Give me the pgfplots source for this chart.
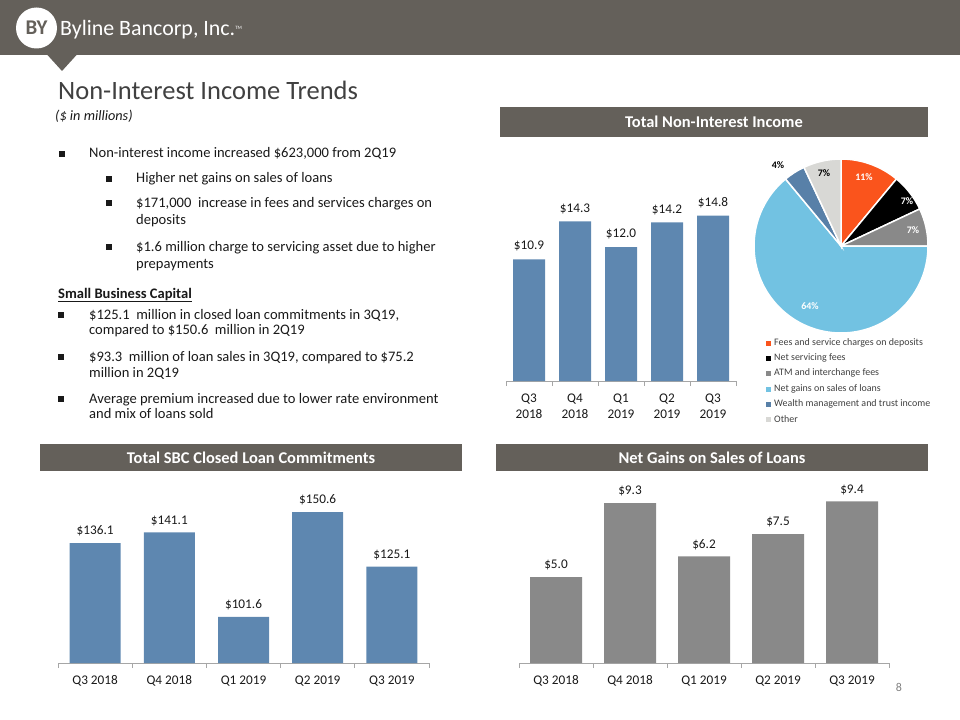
\documentclass[border=0pt]{standalone}
\usepackage{fontspec}
\setmainfont{Carlito}
\usepackage{pgfplots}
\pgfplotsset{compat=1.18}
\definecolor{hdr}{RGB}{100,96,90}
\definecolor{barblue}{RGB}{94,135,176}
\definecolor{bargray}{RGB}{137,137,137}
\definecolor{pieorange}{RGB}{250,84,28}
\definecolor{piegray}{RGB}{137,137,137}
\definecolor{pielight}{RGB}{114,194,226}
\definecolor{piewealth}{RGB}{88,128,168}
\definecolor{pieother}{RGB}{216,216,213}
\definecolor{axc}{RGB}{166,166,166}
\definecolor{txt}{RGB}{25,25,25}
\definecolor{titlec}{RGB}{64,64,64}
\definecolor{legc}{RGB}{64,64,64}
\pgfplotsset{
  barchart/.style={
    scale only axis, ybar,
    axis x line*=bottom, axis y line=none, ytick=\empty,
    xmin=-0.5, xmax=4.5, xtick={0,1,2,3,4},
    major tick length=0pt,
    minor xtick={-0.5,0.5,1.5,2.5,3.5,4.5},
    minor tick length=5bp, tick align=outside,
    x axis line style={draw=axc, line width=0.75bp},
    every minor tick/.append style={draw=axc, line width=0.75bp},
    xticklabel style={font=\fontsize{13.3}{16}\selectfont, text=txt, align=center, yshift=-9bp},
    nodes near coords={\$\pgfmathprintnumber[fixed,fixed zerofill,precision=1]{\pgfplotspointmeta}},
    point meta=y,
    /pgf/number format/assume math mode=true,
  }
}
\newcommand{\sq}[2]{\fill[txt] ({#1-2.6},{-#2+2.8}) rectangle ({#1+2.6},{-#2-2.8});}
\newcommand{\tl}[3]{\node[anchor=base west, inner sep=0, text=txt, font=\fontsize{14.6}{14.6}\selectfont] at (#1,-#2) {#3};}
\begin{document}
\begin{tikzpicture}[x=1bp,y=1bp]
\path[use as bounding box] (0,0) rectangle (960,-720);
% header
\fill[hdr] (0,0) rectangle (960,-55);
\fill[hdr] (47,-54.5) -- (77,-54.5) -- (62,-71) -- cycle;
\fill[white] (36.5,-28) circle[radius=20.5];
\node[text=hdr, font=\fontsize{21}{21}\selectfont\bfseries] at (36.5,-28) {BY};
\node[anchor=base west, inner sep=0, text=white, font=\fontsize{22}{22}\selectfont] at (60,-36) {Byline Bancorp, Inc.\raisebox{6bp}{\fontsize{5}{5}\selectfont TM}};
% title
\node[anchor=base west, inner sep=0, text=titlec, font=\fontsize{26.6}{26.6}\selectfont] at (58,-100) {Non-Interest Income Trends};
\node[anchor=base west, inner sep=0, text=txt, font=\fontsize{14.3}{14.3}\selectfont\itshape] at (55,-121) {(\$ in millions)};
% bullets
\sq{62}{154}
\tl{89}{158}{Non-interest income increased \$623,000 from 2Q19}
\sq{109}{179}
\tl{136}{183}{Higher net gains on sales of loans}
\sq{109}{203}
\tl{136}{207}{\$171,000\ \ increase in fees and services charges on}
\tl{136}{224}{deposits}
\sq{109}{247}
\tl{136}{251}{\$1.6 million charge to servicing asset due to higher}
\tl{136}{268}{prepayments}
\node[anchor=base west, inner sep=0, text=txt, font=\fontsize{14.6}{14.6}\selectfont\bfseries] at (58,-298) {\underline{Small Business Capital}};
\sq{61}{315}
\tl{89}{319}{\$125.1\ \ million in closed loan commitments in 3Q19,}
\tl{89}{334}{compared to \$150.6\ \ million in 2Q19}
\sq{61}{357}
\tl{89}{361}{\$93.3\ \ million of loan sales in 3Q19, compared to \$75.2}
\tl{89}{377}{million in 2Q19}
\sq{61}{399}
\tl{89}{403}{Average premium increased due to lower rate environment}
\tl{89}{418}{and mix of loans sold}
% section boxes
\fill[hdr] (500,-107) rectangle (928,-137);
\node[text=white, font=\fontsize{16.5}{16.5}\selectfont\bfseries] at (714,-122) {Total Non-Interest Income};
\fill[hdr] (40,-444) rectangle (462,-471);
\node[text=white, font=\fontsize{16.5}{16.5}\selectfont\bfseries] at (251,-457.5) {Total SBC Closed Loan Commitments};
\fill[hdr] (496,-444) rectangle (928,-471);
\node[text=white, font=\fontsize{16.5}{16.5}\selectfont\bfseries] at (712,-457.5) {Net Gains on Sales of Loans};
% top bar chart
\begin{axis}[barchart, at={(506bp,-381bp)}, anchor=south west,
  width=230bp, height=201bp, ymin=0, ymax=18, bar width=32bp,
  xticklabels={{Q3\\2018},{Q4\\2018},{Q1\\2019},{Q2\\2019},{Q3\\2019}},
  nodes near coords style={font=\fontsize{13.3}{13.3}\selectfont, text=txt, yshift=4.3bp}]
\addplot[fill=barblue, draw=none] coordinates {(0,10.9) (1,14.3) (2,12.0) (3,14.2) (4,14.8)};
\end{axis}
% pie
\begin{axis}[at={(841bp,-246bp)}, anchor=center, scale only axis, width=174bp, height=174bp,
  xmin=-1, xmax=1, ymin=-1, ymax=1, hide axis, clip=false]
\filldraw[fill=pieorange, draw=white, line width=1.5bp] (axis cs:0,0) -- ++(90:87bp) arc[start angle=90, delta angle={-11*3.6}, radius=87bp] -- cycle;
\filldraw[fill=black, draw=white, line width=1.5bp] (axis cs:0,0) -- ++(50.4:87bp) arc[start angle=50.4, delta angle={-7*3.6}, radius=87bp] -- cycle;
\filldraw[fill=piegray, draw=white, line width=1.5bp] (axis cs:0,0) -- ++(25.2:87bp) arc[start angle=25.2, delta angle={-7*3.6}, radius=87bp] -- cycle;
\filldraw[fill=pielight, draw=white, line width=1.5bp] (axis cs:0,0) -- ++(0:87bp) arc[start angle=0, delta angle={-64*3.6}, radius=87bp] -- cycle;
\filldraw[fill=piewealth, draw=white, line width=1.5bp] (axis cs:0,0) -- ++(129.6:87bp) arc[start angle=129.6, delta angle={-4*3.6}, radius=87bp] -- cycle;
\filldraw[fill=pieother, draw=white, line width=1.5bp] (axis cs:0,0) -- ++(115.2:87bp) arc[start angle=115.2, delta angle={-7*3.6}, radius=87bp] -- cycle;
\end{axis}
\begin{scope}[font=\fontsize{10}{10}\selectfont\bfseries]
\node[text=white] at (864,-177) {11\%};
\node[text=white] at (907,-201) {7\%};
\node[text=white] at (913,-230) {7\%};
\node[text=white] at (810,-306) {64\%};
\node[text=black] at (778,-165) {4\%};
\node[text=black] at (824,-173) {7\%};
\end{scope}
% pie legend
\begin{scope}[font=\fontsize{10}{10}\selectfont]
\fill[pieorange] (765.5,-340.5) rectangle ++(5,-5); \node[anchor=west, inner sep=0, text=legc] at (774,-343) {Fees and service charges on deposits};
\fill[black] (765.5,-355.5) rectangle ++(5,-5); \node[anchor=west, inner sep=0, text=legc] at (774,-358) {Net servicing fees};
\fill[piegray] (765.5,-370.5) rectangle ++(5,-5); \node[anchor=west, inner sep=0, text=legc] at (774,-373) {ATM and interchange fees};
\fill[pielight] (765.5,-386.5) rectangle ++(5,-5); \node[anchor=west, inner sep=0, text=legc] at (774,-389) {Net gains on sales of loans};
\fill[piewealth] (765.5,-401.5) rectangle ++(5,-5); \node[anchor=west, inner sep=0, text=legc] at (774,-404) {Wealth management and trust income};
\fill[pieother] (765.5,-416.5) rectangle ++(5,-5); \node[anchor=west, inner sep=0, text=legc] at (774,-419) {Other};
\end{scope}
% bottom-left chart
\begin{axis}[barchart, at={(58bp,-663bp)}, anchor=south west,
  width=371bp, height=181.8bp, ymin=80, ymax=165, bar width=51bp,
  xticklabels={Q3 2018,Q4 2018,Q1 2019,Q2 2019,Q3 2019},
  nodes near coords style={font=\fontsize{13.3}{13.3}\selectfont, text=txt, yshift=3.3bp}]
\addplot[fill=barblue, draw=none] coordinates {(0,136.1) (1,141.1) (2,101.6) (3,150.6) (4,125.1)};
\end{axis}
% bottom-right chart
\begin{axis}[barchart, at={(519bp,-663bp)}, anchor=south west,
  width=370bp, height=189.2bp, ymin=0, ymax=11, bar width=52bp,
  xticklabels={Q3 2018,Q4 2018,Q1 2019,Q2 2019,Q3 2019},
  nodes near coords style={font=\fontsize{13.3}{13.3}\selectfont, text=txt, yshift=3.3bp}]
\addplot[fill=bargray, draw=none] coordinates {(0,5.0) (1,9.3) (2,6.2) (3,7.5) (4,9.4)};
\end{axis}
\node[text=gray, font=\fontsize{12}{12}\selectfont] at (899,-687) {8};
\end{tikzpicture}
\end{document}
